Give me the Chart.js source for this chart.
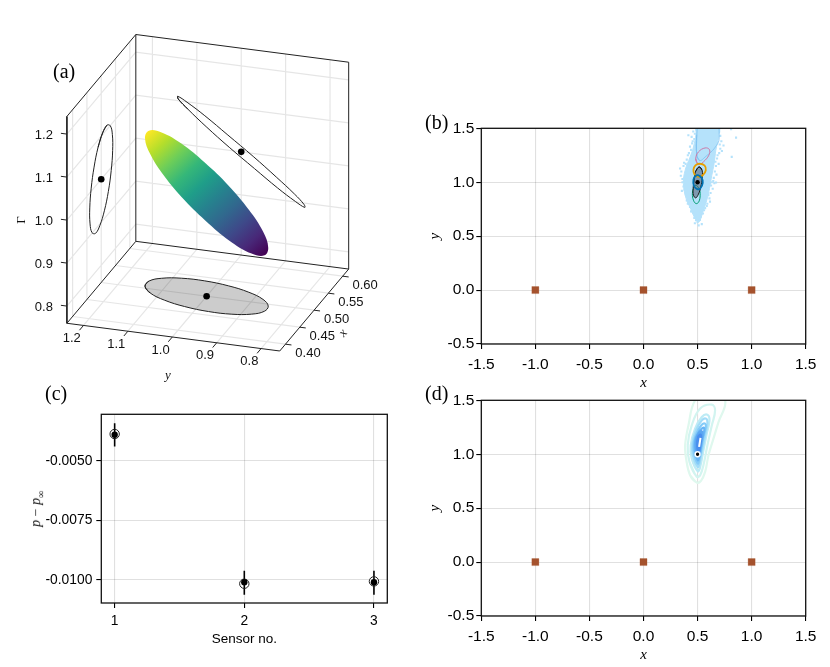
<!DOCTYPE html>
<html>
<head>
<meta charset="utf-8">
<script src="https://cdn.jsdelivr.net/npm/chart.js@4"></script>
<style>
html, body { margin: 0; background: #fff; }
canvas { position: absolute; }
.tag { position: absolute; font: 20px "Liberation Serif", serif; color: #000; line-height: 20px; }
#pLabel { position: absolute; left: -3px; top: 500px; width: 80px; text-align: center; transform: rotate(-90deg);
  font: italic 14px "Liberation Serif", serif; color: #111; }
#pLabel span { font-style: normal; }
#pLabel sub { font-size: 10px; }
</style>
</head>
<body>
<canvas id="chartA" width="400" height="385" style="left:0;top:0"></canvas>
<canvas id="chartB" width="400" height="282" style="left:426px;top:110px"></canvas>
<canvas id="chartC" width="370" height="247" style="left:28px;top:400px"></canvas>
<canvas id="chartD" width="400" height="282" style="left:426px;top:382px"></canvas>
<div class="tag" style="left:53px;top:61px">(a)</div>
<div class="tag" style="left:425px;top:112px">(b)</div>
<div class="tag" style="left:45px;top:383px">(c)</div>
<div class="tag" style="left:425px;top:383px">(d)</div>
<div id="pLabel"><i>p</i> <span>−</span> <i>p</i><sub>∞</sub></div>
<script>
const SANS = '"Liberation Sans", sans-serif';
const SERIF = '"Liberation Serif", serif';

// panel (a): 3D box ranges and ticks
const xRange = [0.38, 0.621];
const yRange = [0.758, 1.2374];
const gRange = [0.76, 1.241];
const xTicks3d = [0.40, 0.45, 0.50, 0.55, 0.60];
const yTicks3d = [0.8, 0.9, 1.0, 1.1, 1.2];
const gTicks3d = [0.8, 0.9, 1.0, 1.1, 1.2];
const center3d = [0.5, 1.0, 1.0];

// confidence ellipse in (x, y, Γ)
const ellX = [0.505, 0.520, 0.532, 0.539, 0.540, 0.535, 0.525, 0.511, 0.495, 0.480, 0.468, 0.461, 0.460, 0.465, 0.475, 0.489];
const ellY = [1.142, 1.143, 1.122, 1.082, 1.030, 0.973, 0.921, 0.880, 0.858, 0.857, 0.878, 0.918, 0.970, 1.027, 1.079, 1.120];
const ellG = [1.104, 1.110, 1.099, 1.073, 1.035, 0.993, 0.952, 0.918, 0.896, 0.890, 0.901, 0.927, 0.965, 1.007, 1.048, 1.083];
const viridis = ['#440154', '#482878', '#3e4989', '#31688e', '#26828e', '#1f9e89', '#35b779', '#6ece58', '#b5de2b', '#fde725'];

// panels (b) and (d)
const posTicksX = [-1.5, -1.0, -0.5, 0.0, 0.5, 1.0, 1.5];
const posTicksY = [-0.5, 0.0, 0.5, 1.0, 1.5];
const sensorX = [-1, 0, 1];
const sensorY = [0, 0, 0];
const sourceX = [0.5];
const sourceY = [1.0];

const cloudX = [0.508, 0.462, 0.431, 0.394, 0.369, 0.385, 0.431, 0.462, 0.486, 0.486, 0.693, 0.693, 0.669, 0.653, 0.632, 0.610, 0.585, 0.554, 0.524];
const cloudY = [0.633, 0.694, 0.765, 0.849, 0.988, 1.111, 1.234, 1.327, 1.451, 1.52, 1.52, 1.420, 1.296, 1.173, 1.065, 0.941, 0.833, 0.741, 0.648];
const speckX = [0.856, 0.816, 0.810, 0.671, 0.415, 0.539, 0.486, 0.338, 0.36, 0.35, 0.37, 0.39, 0.40, 0.42, 0.44, 0.45, 0.47, 0.46, 0.38, 0.39, 0.37, 0.40, 0.41, 0.43, 0.44, 0.46, 0.47, 0.49, 0.50, 0.53, 0.55, 0.57, 0.59, 0.61, 0.62, 0.64, 0.63, 0.65, 0.66, 0.67, 0.68, 0.70, 0.71, 0.72, 0.71, 0.70, 0.69, 0.74, 0.52, 0.51, 0.48, 0.345, 0.36, 0.375, 0.355, 0.41, 0.43, 0.455, 0.475, 0.445, 0.475, 0.53, 0.56, 0.60, 0.625, 0.645, 0.665, 0.685, 0.705, 0.725, 0.695, 0.675, 0.655, 0.615, 0.585];
const speckY = [1.414, 1.235, 1.491, 0.997, 1.435, 0.611, 0.648, 1.127, 1.03, 1.10, 1.15, 1.17, 1.21, 1.27, 1.30, 1.36, 1.40, 1.47, 0.93, 0.89, 0.96, 0.83, 0.80, 0.77, 0.73, 0.72, 0.67, 0.66, 0.63, 0.68, 0.71, 0.76, 0.80, 0.85, 0.90, 0.94, 1.00, 1.04, 1.10, 1.15, 1.22, 1.27, 1.31, 1.38, 1.43, 1.47, 1.49, 1.34, 0.65, 0.60, 0.69, 1.06, 1.00, 1.18, 0.92, 1.25, 1.33, 1.38, 1.45, 1.42, 0.62, 0.72, 0.74, 0.88, 0.97, 1.01, 1.19, 1.25, 1.35, 1.29, 1.17, 1.07, 0.99, 0.82, 0.78];

const traceX = [0.493, 0.493, 0.53, 0.66, 0.70, 0.66, 0.57, 0.52];
const traceY = [1.25, 1.44, 1.62, 1.62, 1.41, 1.32, 1.234, 1.20];
const pinkX = [0.499, 0.483, 0.508, 0.570, 0.610, 0.604, 0.554, 0.517];
const pinkY = [1.173, 1.219, 1.281, 1.318, 1.302, 1.250, 1.188, 1.164];
const orangeX = [0.517, 0.564, 0.576, 0.548, 0.508, 0.471, 0.462, 0.480];
const orangeY = [1.173, 1.157, 1.111, 1.065, 1.049, 1.074, 1.117, 1.157];
const blueX = [0.502, 0.536, 0.548, 0.524, 0.493, 0.465, 0.462, 0.477];
const blueY = [1.065, 1.043, 0.994, 0.941, 0.938, 0.972, 1.025, 1.055];
const tealX = [0.483, 0.514, 0.524, 0.511, 0.486, 0.462, 0.452, 0.462];
const tealY = [0.972, 0.941, 0.880, 0.818, 0.802, 0.833, 0.895, 0.941];
const grayX = [0.514, 0.542, 0.542, 0.530, 0.508, 0.483, 0.462, 0.459, 0.468, 0.480];
const grayY = [1.142, 1.111, 1.034, 0.957, 0.889, 0.855, 0.880, 0.941, 1.018, 1.096];

// contour rings of panel (d), outermost first
const ringsX = [
  [0.493, 0.431, 0.394, 0.385, 0.416, 0.477, 0.62, 0.755, 0.693, 0.647, 0.601, 0.570, 0.530],
  [0.493, 0.425, 0.409, 0.446, 0.524, 0.632, 0.662, 0.632, 0.591, 0.554, 0.524],
  [0.502, 0.446, 0.437, 0.477, 0.539, 0.591, 0.610, 0.585, 0.554, 0.524],
  [0.502, 0.456, 0.452, 0.486, 0.539, 0.579, 0.591, 0.570, 0.542, 0.517],
  [0.502, 0.465, 0.465, 0.496, 0.539, 0.570, 0.576, 0.554, 0.533, 0.514],
  [0.502, 0.474, 0.477, 0.505, 0.539, 0.561, 0.561, 0.545, 0.527, 0.514],
  [0.508, 0.483, 0.490, 0.514, 0.539, 0.545, 0.533, 0.520],
  [0.511, 0.496, 0.505, 0.527, 0.533, 0.524]
];
const ringsY = [
  [0.737, 0.805, 0.960, 1.083, 1.268, 1.500, 1.62, 1.50, 1.296, 1.145, 0.990, 0.836, 0.750],
  [0.790, 0.929, 1.083, 1.268, 1.423, 1.460, 1.407, 1.268, 1.083, 0.898, 0.805],
  [0.842, 0.960, 1.083, 1.237, 1.345, 1.367, 1.314, 1.191, 1.037, 0.882],
  [0.882, 0.990, 1.099, 1.222, 1.314, 1.330, 1.284, 1.176, 1.037, 0.913],
  [0.913, 1.015, 1.114, 1.207, 1.274, 1.284, 1.253, 1.160, 1.037, 0.944],
  [0.944, 1.037, 1.129, 1.197, 1.237, 1.244, 1.213, 1.145, 1.037, 0.969],
  [0.990, 1.068, 1.145, 1.200, 1.213, 1.182, 1.114, 1.037],
  [1.021, 1.083, 1.160, 1.182, 1.151, 1.083]
];
const ringColors = ['#dff8ee', '#d2f4f0', '#bdebf5', '#a2dcf8', '#84cbf8', '#68b5f5', '#5aa6f2', '#4a8fee'];
const peakX = [0.527, 0.514];
const peakY = [1.151, 1.068];

// panel (c)
const sensorNo = [1, 2, 3];
const measured = [-0.0039, -0.01011, -0.01011];
const predicted = [-0.00387, -0.01017, -0.01007];
const errLow = [-0.0044, -0.01063, -0.01063];
const errHigh = [-0.00342, -0.00962, -0.00962];
const residualTicks = [-0.0100, -0.0075, -0.0050];

// view of the box, fitted to the drawn corners
function project(x, y, g) {
  return {
    x: 172.3 - 444 * (y - 1) + 286 * (x - 0.38),
    y: 337 - 57.8 * (y - 1) - 340 * (x - 0.38) - 430 * (g - 0.76)
  };
}

const GAP = { x: NaN, y: NaN };

function zipPts(xs, ys) {
  return xs.map((v, i) => ({ x: v, y: ys[i] }));
}

// points overlap at the seam so the smoothing has no cusp there
function ring(pts, color, width, fillColor) {
  return {
    data: [pts[pts.length - 1], ...pts, pts[0], pts[1]], showLine: true, borderColor: color, borderWidth: width,
    pointRadius: 0, tension: 0.4, fill: fillColor ? 'shape' : false, backgroundColor: fillColor
  };
}

function dots(pts, color, radius, extra) {
  return Object.assign({ data: pts, pointRadius: radius, pointBackgroundColor: color, pointBorderWidth: 0, showLine: false }, extra);
}

function wires(pts, color, width) {
  return { data: pts, showLine: true, borderColor: color, borderWidth: width, pointRadius: 0, tension: 0 };
}

const frame = {
  id: 'frame',
  afterDatasetsDraw(chart) {
    const a = chart.chartArea, c = chart.ctx;
    c.save();
    c.strokeStyle = '#111';
    c.lineWidth = 1.3;
    c.strokeRect(a.left, a.top, a.right - a.left, a.bottom - a.top);
    c.restore();
  }
};

function axis(min, max, ticks, digits, size, pad, boxSize, horizontal, title) {
  return {
    type: 'linear', min, max,
    afterBuildTicks(s) { s.ticks = ticks.map(v => ({ value: v })); },
    afterFit(s) { if (horizontal) s.height = boxSize; else s.width = boxSize; },
    grid: { color: 'rgba(0,0,0,0.12)', lineWidth: 1.1, tickColor: '#000', tickLength: 5, tickWidth: 1.1 },
    border: { display: false },
    ticks: {
      color: '#000', padding: pad, autoSkip: false, maxRotation: 0,
      font: { family: SANS, size },
      callback: v => v.toFixed(digits)
    },
    title
  };
}

function serifTitle(text) {
  return { display: true, text, color: '#000', padding: 0, font: { family: SERIF, style: 'italic', size: 15 } };
}

function makeChart(id, datasets, scales, padding, plugins) {
  return new Chart(document.getElementById(id), {
    type: 'scatter',
    data: { datasets: datasets.reverse() },
    options: {
      responsive: false, animation: false, events: [],
      layout: { padding, autoPadding: false },
      plugins: { legend: { display: false }, tooltip: { enabled: false } },
      scales
    },
    plugins: plugins || [frame]
  });
}

// panel (a)
const [x0, x1] = xRange, [y0, y1] = yRange, [g0, g1] = gRange;

const gridLines = [];
xTicks3d.forEach(v => gridLines.push(project(v, y1, g0), project(v, y1, g1), GAP, project(v, y0, g0), project(v, y1, g0), GAP));
yTicks3d.forEach(v => gridLines.push(project(x0, v, g0), project(x1, v, g0), project(x1, v, g1), GAP));
gTicks3d.forEach(v => gridLines.push(project(x0, y1, v), project(x1, y1, v), project(x1, y0, v), GAP));

const boxEdges = [
  project(x1, y0, g0), project(x1, y0, g1), project(x1, y1, g1), project(x0, y1, g1), project(x0, y1, g0),
  project(x0, y0, g0), project(x1, y0, g0), project(x1, y1, g0), project(x0, y1, g0), GAP,
  project(x1, y1, g0), project(x1, y1, g1)
];

const tickMarks = [];
xTicks3d.forEach(v => tickMarks.push(project(v, y0, g0), project(v, y0 - 0.0135, g0), GAP));
yTicks3d.forEach(v => tickMarks.push(project(x0, v, g0), project(x0 - 0.014, v, g0), GAP));
gTicks3d.forEach(v => tickMarks.push(project(x0, y1, v), project(x0, y1 + 0.0135, v), GAP));

const shadowLeft = ellX.map((v, i) => project(v, y1, ellG[i]));
const shadowBack = ellY.map((v, i) => project(x1, v, ellG[i]));
const shadowFloor = ellX.map((v, i) => project(v, ellY[i], g0));
const surface = ellX.map((v, i) => project(v, ellY[i], ellG[i]));
const [cx, cy, cg] = center3d;

function viridisFill(ctx) {
  const c = ctx.chart;
  if (!c.chartArea) return viridis[5];
  const sx = c.scales.x, sy = c.scales.y;
  const grad = c.ctx.createLinearGradient(
    sx.getPixelForValue(surface[9].x), sy.getPixelForValue(surface[9].y),
    sx.getPixelForValue(surface[1].x), sy.getPixelForValue(surface[1].y)
  );
  viridis.forEach((col, i) => grad.addColorStop(i / (viridis.length - 1), col));
  return grad;
}

const boxLabels = {
  id: 'boxLabels',
  afterDatasetsDraw(chart) {
    const c = chart.ctx, sx = chart.scales.x, sy = chart.scales.y;
    function put(px, py, text, font, align, angle) {
      c.save();
      c.translate(px, py);
      c.rotate(angle || 0);
      c.font = font;
      c.fillStyle = '#111';
      c.textAlign = align || 'center';
      c.textBaseline = 'middle';
      c.fillText(text, 0, 0);
      c.restore();
    }
    function at(p, dx, dy, text, font, align) {
      put(sx.getPixelForValue(p.x) + dx, sy.getPixelForValue(p.y) + dy, text, font, align);
    }
    const tickFont = '13px ' + SANS;
    gTicks3d.forEach(v => at(project(x0, y1, v), -14, 1, v.toFixed(1), tickFont, 'right'));
    yTicks3d.forEach(v => at(project(x0, v, g0), -11.7, 13, v.toFixed(1), tickFont));
    xTicks3d.forEach(v => at(project(v, y0, g0), 22.5, 9, v.toFixed(2), tickFont));
    put(168, 376, 'y', 'italic 13px ' + SERIF);
    put(343, 333, 'x', 'italic 13px ' + SERIF, 'center', -0.9);
    put(22, 220, 'Γ', '13px ' + SERIF, 'center', -Math.PI / 2);
  }
};

makeChart('chartA', [
  wires(gridLines, 'rgba(0,0,0,0.1)', 1.2),
  wires(boxEdges, '#222', 1),
  wires(tickMarks, '#222', 1),
  ring(shadowFloor, '#222', 1, 'rgba(0,0,0,0.2)'),
  ring(shadowLeft, '#222', 1),
  ring(shadowBack, '#222', 1),
  ring(surface, 'rgba(0,0,0,0)', 0, viridisFill),
  dots([project(cx, y1, cg), project(x1, cy, cg), project(cx, cy, g0)], '#000', 3.3)
], {
  x: { type: 'linear', display: false, min: 0, max: 400 },
  y: { type: 'linear', display: false, min: 0, max: 385, reverse: true }
}, 0, [boxLabels]);

// panels (b) and (d) share axes
function posScales() {
  return {
    x: axis(-1.5, 1.5, posTicksX, 1, 15.5, 6, 48, true, serifTitle('x')),
    y: axis(-0.5, 1.5, posTicksY, 1, 15.5, 2, 55.3, false, serifTitle('y'))
  };
}
const posPadding = { top: 18.3, right: 20.3 };
const sensorMarks = () => dots(zipPts(sensorX, sensorY), '#a5522d', 5, { pointStyle: 'rect', pointBorderWidth: 1, pointBorderColor: 'rgba(165,82,45,0.25)' });

makeChart('chartB', [
  ring(zipPts(cloudX, cloudY), '#b5e2fb', 1, '#b5e2fb'),
  dots(zipPts(speckX, speckY), '#b5e2fb', 1.5, { pointStyle: 'rect' }),
  ring(zipPts(traceX, traceY), 'rgba(120,190,240,0.7)', 1),
  ring(zipPts(pinkX, pinkY), '#cc79a7', 1),
  ring(zipPts(tealX, tealY), '#009e73', 1),
  ring(zipPts(grayX, grayY), '#1a1a1a', 1, 'rgba(90,105,125,0.6)'),
  ring(zipPts(orangeX, orangeY), '#e69f00', 1.8),
  ring(zipPts(blueX, blueY), '#0072b2', 1.8),
  sensorMarks(),
  dots(zipPts(sourceX, sourceY), '#000', 2.2)
], posScales(), posPadding);

const contourSets = ringsX.map((xs, i) => ring(zipPts(xs, ringsY[i]), ringColors[i], 2.2, i >= 6 ? ringColors[i] : undefined));

makeChart('chartD', [
  ...contourSets,
  wires(zipPts(peakX, peakY), '#fff', 2),
  sensorMarks(),
  dots(zipPts(sourceX, sourceY), '#000', 2.4, { pointBorderWidth: 1.5, pointBorderColor: '#fff' })
], posScales(), posPadding);

// panel (c)
const errBars = [];
sensorNo.forEach((n, i) => errBars.push({ x: n, y: errLow[i] }, { x: n, y: errHigh[i] }, GAP));

makeChart('chartC', [
  wires(errBars, '#000', 1.6),
  {
    data: zipPts(sensorNo, predicted), pointRadius: 4.7, pointBackgroundColor: 'rgba(0,0,0,0)',
    pointBorderColor: '#222', pointBorderWidth: 1, showLine: false
  },
  dots(zipPts(sensorNo, measured), '#000', 3.2)
], {
  x: axis(0.897, 3.103, sensorNo, 0, 13.8, 5, 44, true, { display: true, text: 'Sensor no.', color: '#000', padding: 0, font: { family: SANS, size: 13.5 } }),
  y: axis(-0.01098, -0.00304, residualTicks, 4, 13.8, 4, 73.3, false)
}, { top: 14.3, right: 10.7 });
</script>
</body>
</html>
